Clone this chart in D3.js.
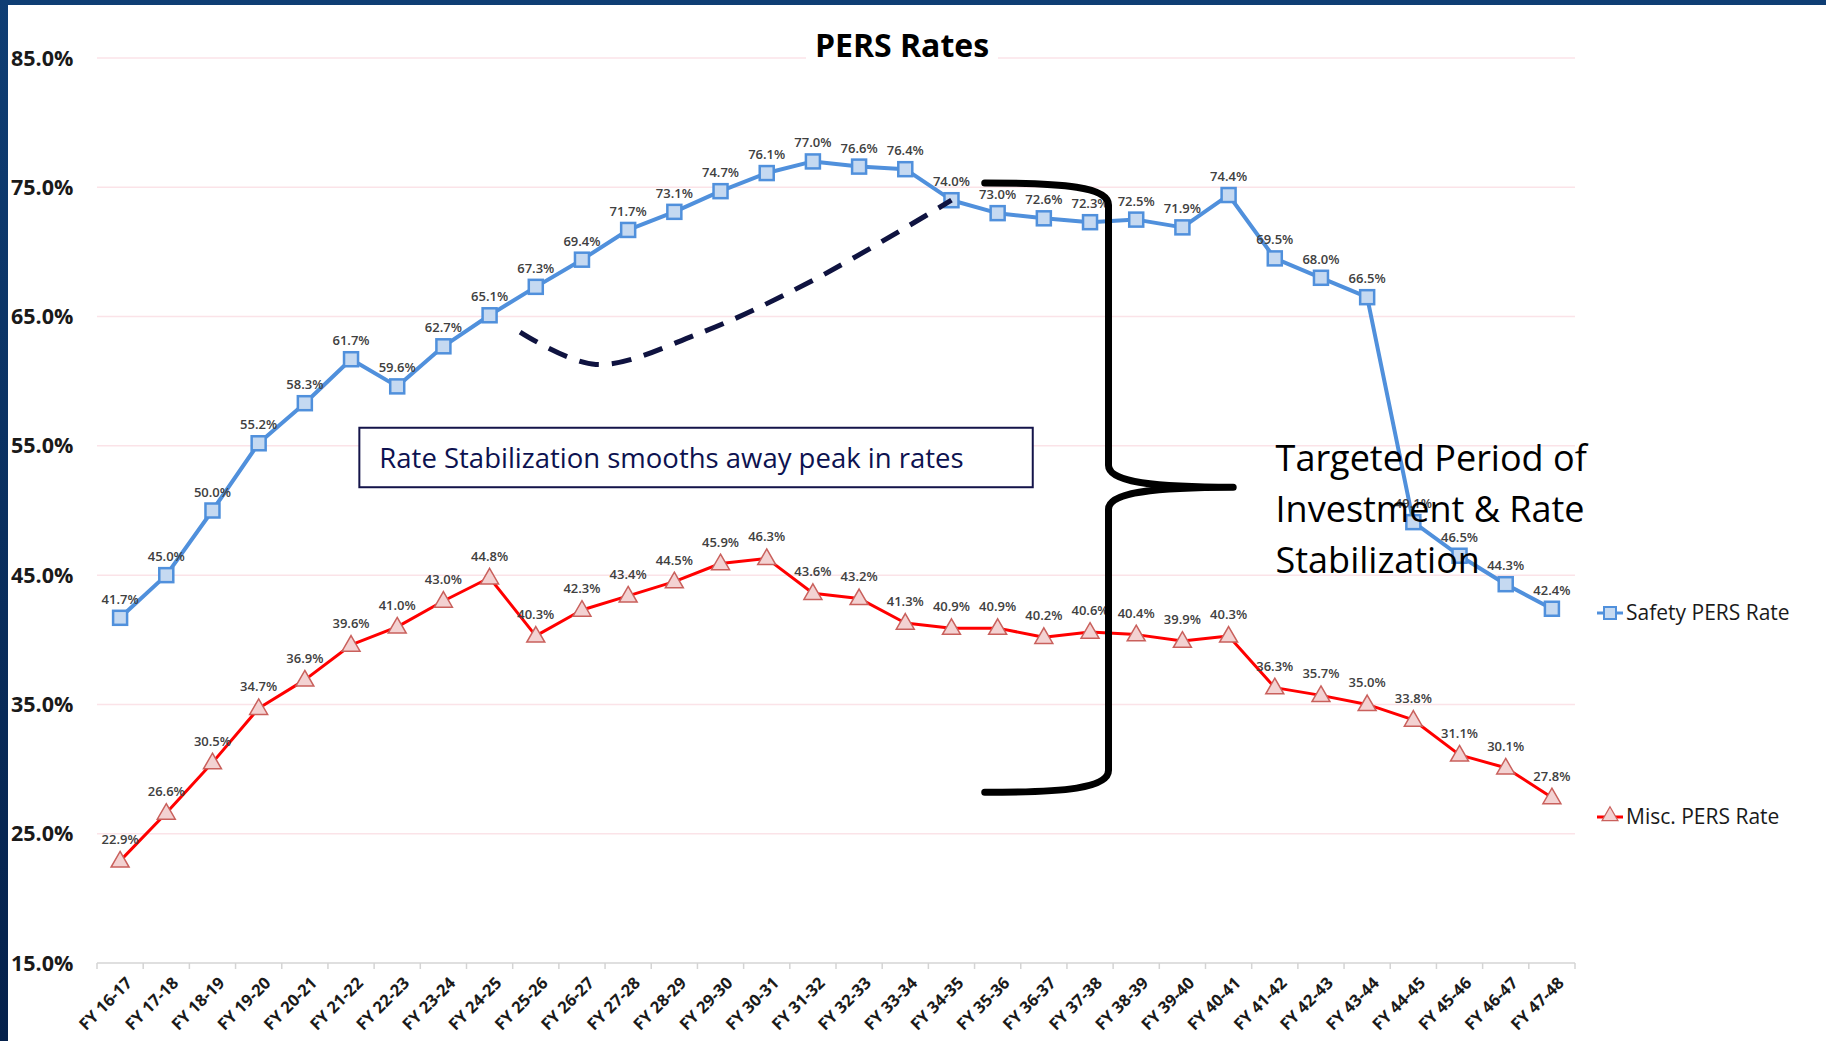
<!DOCTYPE html>
<html>
<head>
<meta charset="utf-8">
<script src="https://cdn.jsdelivr.net/npm/d3@7"></script>
<style>
	body { margin: 0; background: #0b2c5e; }
	svg { display: block; }
</style>
</head>
<body>
<svg id="chart"></svg>
<script>
// Chart size
const width = 1826;
const height = 1041;

// plot area
const margin = { top: 58, right: 251, bottom: 78, left: 97 };

// Data
const categories = [
	"FY 16-17", "FY 17-18", "FY 18-19", "FY 19-20", "FY 20-21", "FY 21-22", "FY 22-23", "FY 23-24",
	"FY 24-25", "FY 25-26", "FY 26-27", "FY 27-28", "FY 28-29", "FY 29-30", "FY 30-31", "FY 31-32",
	"FY 32-33", "FY 33-34", "FY 34-35", "FY 35-36", "FY 36-37", "FY 37-38", "FY 38-39", "FY 39-40",
	"FY 40-41", "FY 41-42", "FY 42-43", "FY 43-44", "FY 44-45", "FY 45-46", "FY 46-47", "FY 47-48",
];
const safetyRates = [
	41.7, 45.0, 50.0, 55.2, 58.3, 61.7, 59.6, 62.7, 65.1, 67.3, 69.4, 71.7, 73.1, 74.7, 76.1, 77.0,
	76.6, 76.4, 74.0, 73.0, 72.6, 72.3, 72.5, 71.9, 74.4, 69.5, 68.0, 66.5, 49.1, 46.5, 44.3, 42.4,
];
const miscRates = [
	22.9, 26.6, 30.5, 34.7, 36.9, 39.6, 41.0, 43.0, 44.8, 40.3, 42.3, 43.4, 44.5, 45.9, 46.3, 43.6,
	43.2, 41.3, 40.9, 40.9, 40.2, 40.6, 40.4, 39.9, 40.3, 36.3, 35.7, 35.0, 33.8, 31.1, 30.1, 27.8,
];
const yTicks = [15, 25, 35, 45, 55, 65, 75, 85];

// annotations, in (category index, rate) units
const smoothCurve = [[8.66, 63.8], [10.3, 61.3], [12.54, 63.7], [15.05, 67.9], [18, 74.0]];
const bracketIdx = [18.72, 21.4, 24.1]; // left ends, stem, tip
const bracketVal = [75.33, 51.8, 28.2]; // top, middle, bottom
const boxIdx = [5.18, 19.76];
const boxVal = [56.4, 51.8];
const noteIdx = 25.06;
const noteVal = 53.2;
const noteLines = ["Targeted Period of", "Investment & Rate", "Stabilization"];

const blue = "#5090dc";
const red = "#ff0000";

const svg = d3.select("#chart").attr("width", width).attr("height", height);

// background frame
const defs = svg.append("defs");
const grad = defs.append("linearGradient").attr("id", "bg").attr("x1", 0).attr("y1", 0).attr("x2", 0).attr("y2", 1);
grad.append("stop").attr("offset", "0%").attr("stop-color", "#0f3e74");
grad.append("stop").attr("offset", "100%").attr("stop-color", "#05214b");
svg.append("rect").attr("width", width).attr("height", height).attr("fill", "url(#bg)");
svg.append("rect").attr("x", 8).attr("y", 5).attr("width", width - 8).attr("height", height - 5).attr("fill", "#fff");

// scales
const x = d3.scaleBand().domain(categories).range([margin.left, width - margin.right]);
const bw = x.bandwidth();
const y = d3.scaleLinear().domain([15, 85]).range([height - margin.bottom, margin.top]);
const px = (i) => margin.left + (i + 0.5) * bw;
const cx = (d, i) => x(categories[i]) + bw / 2;

// gridlines
svg.append("g")
	.selectAll("line")
	.data(yTicks.filter((t) => t > 15))
	.join("line")
	.attr("x1", margin.left)
	.attr("x2", width - margin.right)
	.attr("y1", (d) => y(d))
	.attr("y2", (d) => y(d))
	.attr("stroke", "#fbe3e8")
	.attr("stroke-width", 1.5);

// y labels
svg.append("g")
	.selectAll("text")
	.data(yTicks)
	.join("text")
	.attr("x", 11)
	.attr("y", (d) => y(d))
	.attr("dy", "0.35em")
	.attr("text-anchor", "start")
	.style("font", "bold 21.5px 'Open Sans'")
	.attr("fill", "#1a1a1a")
	.text((d) => d.toFixed(1) + "%");

// x axis
const axisY = y(15);
svg.append("line")
	.attr("x1", margin.left).attr("x2", width - margin.right)
	.attr("y1", axisY).attr("y2", axisY)
	.attr("stroke", "#d4d4d4").attr("stroke-width", 1.5);
svg.append("g")
	.selectAll("line")
	.data(categories.concat(["end"]))
	.join("line")
	.attr("x1", (d, i) => margin.left + i * bw)
	.attr("x2", (d, i) => margin.left + i * bw)
	.attr("y1", axisY).attr("y2", axisY + 6)
	.attr("stroke", "#d4d4d4").attr("stroke-width", 1.5);
svg.append("g")
	.selectAll("text")
	.data(categories)
	.join("text")
	.attr("transform", (d) => `translate(${x(d) + bw / 2 + 9}, ${axisY + 17}) rotate(-45)`)
	.attr("dy", "0.35em")
	.attr("text-anchor", "end")
	.style("font", "bold 16.5px 'Open Sans'")
	.attr("fill", "#1a1a1a")
	.text((d) => d);

// title
svg.append("rect").attr("x", 806).attr("y", 40).attr("width", 192).attr("height", 30).attr("fill", "#fff");
svg.append("text")
	.attr("x", 902).attr("y", 57)
	.attr("text-anchor", "middle")
	.style("font", "bold 32px 'Open Sans'")
	.attr("fill", "#000")
	.text("PERS Rates");

// lines
const line = d3.line().x(cx).y((d) => y(d));

svg.append("path").datum(miscRates).attr("d", line)
	.attr("fill", "none").attr("stroke", red).attr("stroke-width", 3).attr("stroke-linejoin", "round");
svg.append("path").datum(safetyRates).attr("d", line)
	.attr("fill", "none").attr("stroke", blue).attr("stroke-width", 4).attr("stroke-linejoin", "round");

// markers
svg.append("g")
	.selectAll("path")
	.data(miscRates)
	.join("path")
	.attr("d", d3.symbol(d3.symbolTriangle).size(140))
	.attr("transform", (d, i) => `translate(${cx(d, i)}, ${y(d) + 1})`)
	.attr("fill", "#f3d2d2")
	.attr("stroke", "#c9605c")
	.attr("stroke-width", 1.5);
svg.append("g")
	.selectAll("rect")
	.data(safetyRates)
	.join("rect")
	.attr("x", (d, i) => cx(d, i) - 7)
	.attr("y", (d) => y(d) - 7)
	.attr("width", 14)
	.attr("height", 14)
	.attr("fill", "#c5d9f1")
	.attr("stroke", blue)
	.attr("stroke-width", 2.5);

// data labels
svg.append("g")
	.selectAll("text")
	.data(miscRates)
	.join("text")
	.attr("x", cx)
	.attr("y", (d) => y(d) - 17)
	.attr("text-anchor", "middle")
	.style("font", "600 13px 'Open Sans'")
	.attr("fill", "#404040")
	.text((d) => d.toFixed(1) + "%");
svg.append("g")
	.selectAll("text")
	.data(safetyRates)
	.join("text")
	.attr("x", cx)
	.attr("y", (d) => y(d) - 14)
	.attr("text-anchor", "middle")
	.style("font", "600 13px 'Open Sans'")
	.attr("fill", "#404040")
	.text((d) => d.toFixed(1) + "%");

// dashed smoothing curve
svg.append("path")
	.datum(smoothCurve)
	.attr("d", d3.line().x((d) => px(d[0])).y((d) => y(d[1])).curve(d3.curveCatmullRom))
	.attr("fill", "none")
	.attr("stroke", "#0f1340")
	.attr("stroke-width", 5)
	.attr("stroke-dasharray", "20,13");

// annotation box
const bx1 = px(boxIdx[0]), bx2 = px(boxIdx[1]);
const by1 = y(boxVal[0]), by2 = y(boxVal[1]);
svg.append("rect")
	.attr("x", bx1).attr("y", by1)
	.attr("width", bx2 - bx1).attr("height", by2 - by1)
	.attr("fill", "#fff")
	.attr("stroke", "#14144a")
	.attr("stroke-width", 2);
svg.append("text")
	.attr("x", bx1 + 20)
	.attr("y", by1 + 40)
	.style("font", "27.5px 'Open Sans'")
	.attr("fill", "#0d1250")
	.text("Rate Stabilization smooths away peak in rates");

// bracket
const xl = px(bracketIdx[0]), xs = px(bracketIdx[1]), xt = px(bracketIdx[2]);
const yt = y(bracketVal[0]), ym = y(bracketVal[1]), yb = y(bracketVal[2]);
const bracket = d3.path();
bracket.moveTo(xl, yt);
bracket.bezierCurveTo(xl + 80, yt, xs, yt + 4, xs, yt + 22);
bracket.lineTo(xs, ym - 22);
bracket.bezierCurveTo(xs, ym - 6, xs + 40, ym, xt, ym);
bracket.bezierCurveTo(xs + 40, ym, xs, ym + 6, xs, ym + 22);
bracket.lineTo(xs, yb - 22);
bracket.bezierCurveTo(xs, yb - 4, xl + 80, yb, xl, yb);
svg.append("path")
	.attr("d", bracket.toString())
	.attr("fill", "none")
	.attr("stroke", "#000")
	.attr("stroke-width", 7)
	.attr("stroke-linecap", "round")
	.attr("stroke-linejoin", "round");

// note text
svg.append("g")
	.selectAll("text")
	.data(noteLines)
	.join("text")
	.attr("x", px(noteIdx) - 2)
	.attr("y", (d, i) => y(noteVal) + 2 + i * 51)
	.style("font", "36px 'Open Sans'")
	.attr("fill", "#000")
	.text((d) => d);

// legend
const legend = [
	{ name: "Safety PERS Rate", color: blue, y: 613 },
	{ name: "Misc. PERS Rate", color: red, y: 817 },
];
const lg = svg.append("g").selectAll("g").data(legend).join("g");
lg.append("line")
	.attr("x1", 1597).attr("x2", 1623)
	.attr("y1", (d) => d.y).attr("y2", (d) => d.y)
	.attr("stroke", (d) => d.color).attr("stroke-width", 3);
lg.filter((d, i) => i === 0).append("rect")
	.attr("x", 1604).attr("y", (d) => d.y - 6)
	.attr("width", 12).attr("height", 12)
	.attr("fill", "#c5d9f1").attr("stroke", blue).attr("stroke-width", 2);
lg.filter((d, i) => i === 1).append("path")
	.attr("d", d3.symbol(d3.symbolTriangle).size(110))
	.attr("transform", (d) => `translate(1610, ${d.y - 1})`)
	.attr("fill", "#f3d2d2").attr("stroke", "#c9605c").attr("stroke-width", 1.2);
lg.append("text")
	.attr("x", 1626)
	.attr("y", (d) => d.y)
	.attr("dy", "0.35em")
	.style("font", "21px 'Open Sans'")
	.attr("fill", "#1a1a1a")
	.text((d) => d.name);
</script>
</body>
</html>
